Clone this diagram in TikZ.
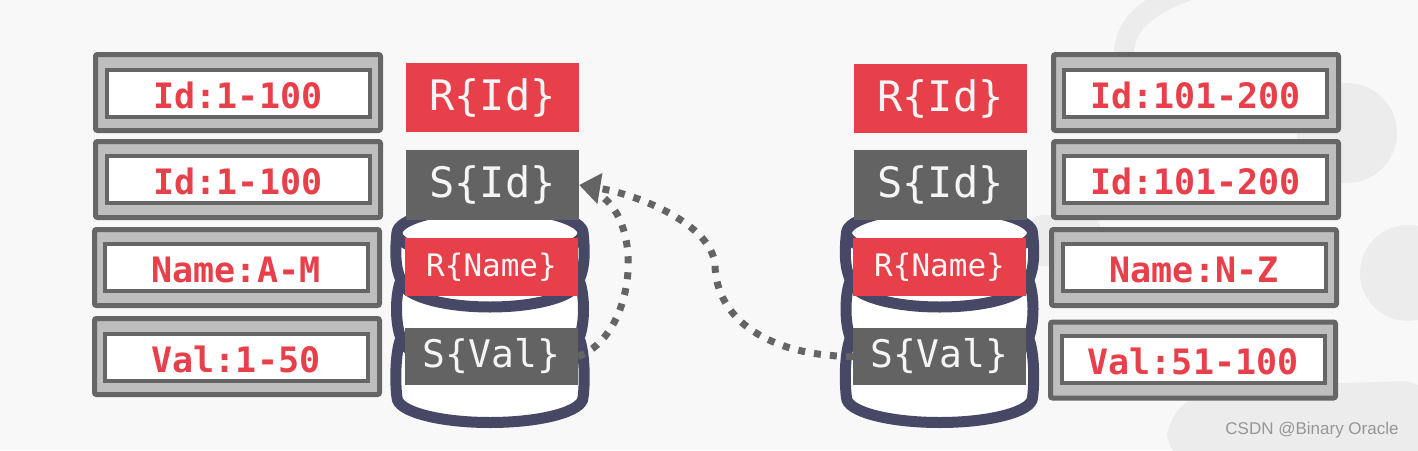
\documentclass[tikz,border=0pt]{standalone}
\usepackage{fontspec}
\setmainfont{Liberation Sans}
\newfontfamily\monofont{DejaVu Sans Mono}
\usetikzlibrary{arrows.meta}
\definecolor{bg}{RGB}{248,248,248}
\definecolor{logo}{RGB}{236,236,236}
\definecolor{cmured}{RGB}{232,64,74}
\definecolor{dgray}{RGB}{102,102,102}
\definecolor{lgray}{RGB}{190,190,190}
\definecolor{taggray}{RGB}{99,99,99}
\definecolor{navy}{RGB}{70,72,102}
\definecolor{arrowgray}{RGB}{100,100,100}
\definecolor{wmgray}{RGB}{150,150,150}
\definecolor{tagtext}{RGB}{245,245,245}
\tikzset{
  outerbox/.style={draw=dgray, fill=lgray, line width=5pt, rounded corners=2pt,
    minimum width=285pt, minimum height=76pt, inner sep=0pt},
  innerbox/.style={draw=dgray, fill=white, line width=4pt,
    minimum width=263pt, minimum height=47pt, inner sep=0pt, text=cmured,
    text height=30pt, text depth=0pt,
    font=\monofont\bfseries\fontsize{35}{35}\selectfont},
  tagbox/.style={minimum width=173pt, inner sep=0pt, text=tagtext},
  redtag/.style={tagbox, fill=cmured},
  graytag/.style={tagbox, fill=taggray},
  bigfont/.style={font=\monofont\fontsize{42}{42}\selectfont},
  valfont/.style={font=\monofont\fontsize{38}{38}\selectfont},
  namefont/.style={font=\monofont\fontsize{31}{31}\selectfont},
  dotline/.style={draw=arrowgray, line width=7pt, dash pattern=on 7pt off 9pt},
  dbline/.style={draw=navy, line width=11pt, line cap=round, line join=round},
  dbcyl/.pic={
    \fill[white] (0,233) ellipse[x radius=93, y radius=25];
    \fill[white] (-93,233) rectangle (93,397.5);
    \fill[white] (0,397.5) ellipse[x radius=93, y radius=25];
    \draw[dbline] (0,233) ellipse[x radius=93, y radius=25];
    % segment 1
    \draw[dbline] (-93,233) .. controls (-95,250) and (-95,268) .. (-89,280)
      arc[start angle=180, end angle=0, x radius=89, y radius=27]
      .. controls (95,268) and (95,250) .. (93,233);
    % segment 2
    \draw[dbline] (-89,280) .. controls (-95,294) and (-95,324) .. (-89,338)
      arc[start angle=180, end angle=0, x radius=89, y radius=27]
      .. controls (95,324) and (95,294) .. (89,280);
    % segment 3
    \draw[dbline] (-89,338) .. controls (-95,352) and (-95,384) .. (-93,397.5)
      arc[start angle=180, end angle=0, x radius=93, y radius=25]
      .. controls (95,384) and (95,352) .. (89,338);
  }
}
\begin{document}
\begin{tikzpicture}[x=1pt, y=-1pt]
  \useasboundingbox (0,0) rectangle (1418,450);
  \fill[bg] (0,0) rectangle (1418,450);
  % faint background logo
  \draw[logo, line width=20pt] (1125,70) .. controls (1118,30) and (1140,8) .. (1190,-10);
  \fill[logo] (1347,133) circle[radius=50];
  \fill[logo] (1408,273) circle[radius=48];
  \fill[logo, rounded corners=40pt] (1167,470) -- (1167,400) -- (1250,386) -- (1440,380) -- (1440,470) -- cycle;
  \fill[logo, rounded corners=12pt] (1030,215) rectangle (1100,266);

  % left partition boxes
  \node[outerbox] (lo1) at (238,92.5) {};
  \node[innerbox] (li1) at (238,93.5) {Id:1-100};
  \node[outerbox] (lo2) at (238,179.5) {};
  \node[innerbox] (li2) at (238,179.5) {Id:1-100};
  \node[outerbox] (lo3) at (237,267.5) {};
  \node[innerbox] (li3) at (236,267) {Name:A-M};
  \node[outerbox] (lo4) at (237,356.5) {};
  \node[innerbox] (li4) at (236,357) {Val:1-50};

  % right partition boxes
  \node[outerbox] (ro1) at (1196,92.5) {};
  \node[innerbox] (ri1) at (1195.5,93.5) {Id:101-200};
  \node[outerbox] (ro2) at (1196,179.5) {};
  \node[innerbox] (ri2) at (1195.5,179.5) {Id:101-200};
  \node[outerbox] (ro3) at (1194,267.5) {};
  \node[innerbox] (ri3) at (1194,267) {Name:N-Z};
  \node[outerbox] (ro4) at (1193,360) {};
  \node[innerbox] (ri4) at (1193,359) {Val:51-100};

  % database cylinders
  \pic at (490,0) {dbcyl};
  \pic at (939.5,0) {dbcyl};

  % left tags
  \node[redtag, bigfont, minimum height=69pt] (lrid) at (492.5,97.5) {R\{Id\}};
  \node[graytag, bigfont, minimum height=70pt] (lsid) at (492.5,185) {S\{Id\}};
  \node[redtag, namefont, minimum height=58pt] (lrname) at (491.5,267) {R\{Name\}};
  \node[graytag, valfont, minimum height=57pt] (lsval) at (491.5,356.5) {S\{Val\}};

  % right tags
  \node[redtag, bigfont, minimum height=69pt] (rrid) at (940.5,98.5) {R\{Id\}};
  \node[graytag, bigfont, minimum height=70pt] (rsid) at (940.5,185) {S\{Id\}};
  \node[redtag, namefont, minimum height=58pt] (rrname) at (939.5,267) {R\{Name\}};
  \node[graytag, valfont, minimum height=57pt] (rsval) at (939.5,356.5) {S\{Val\}};

  % dotted arrows
  \coordinate (a1end) at (600,195);
  \draw[dotline] (lsval.east) .. controls (635,335) and (645,225) .. (a1end);
  \draw[dotline, -{Triangle[length=21pt, width=30pt]}] (rsval.west)
    .. controls (770,356) and (716,320) .. (715,265)
    .. controls (712,225) and (640,195) .. (lsid.east);

  % watermark
  \node[text=wmgray, font=\fontsize{17}{17}\selectfont] (wm) at (1312,430) {CSDN @Binary Oracle};
\end{tikzpicture}
\end{document}
